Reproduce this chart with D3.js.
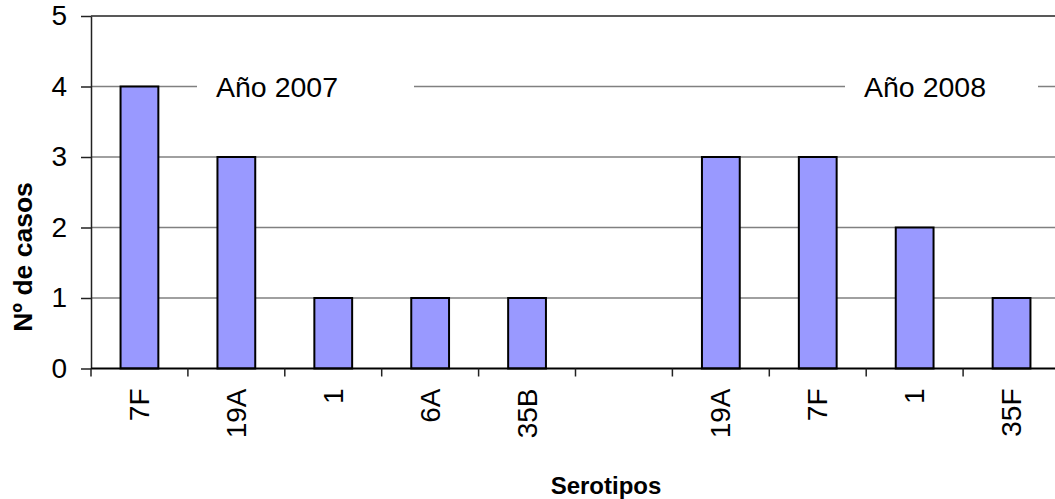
<!DOCTYPE html>
<html lang="es">
<head>
<meta charset="UTF-8">
<title>Serotipos por año</title>
<script src="https://d3js.org/d3.v7.min.js"></script>
<style>
    * { margin: 0; padding: 0; box-sizing: border-box; }
    html, body { width: 1055px; height: 499px; background: #fff; overflow: hidden; }
    svg { display: block; font-family: Arial, "Liberation Sans", sans-serif; }
</style>
</head>
<body>
<svg id="chart" width="1055" height="499"></svg>
<script>
    // Data
    const categories = ["7F", "19A", "1", "6A", "35B", "", "19A", "7F", "1", "35F"];
    const cases = [4, 3, 1, 1, 1, 0, 3, 3, 2, 1];
    const yTicks = [0, 1, 2, 3, 4, 5];
    const yearLabels = ["Año 2007", "Año 2008"];

    const svg = d3.select("#chart");
    const margin = { top: 16, right: -5, bottom: 130.5, left: 91 };
    const width = 1055, height = 499;

    const x = d3.scaleBand()
        .domain(d3.range(categories.length))
        .range([margin.left, width - margin.right])
        .padding(0);

    const y = d3.scaleLinear()
        .domain([0, 5])
        .range([height - margin.bottom, margin.top]);

    // gridlines
    svg.append("g")
        .selectAll("line")
        .data(yTicks.filter(d => d > 0))
        .join("line")
        .attr("x1", margin.left)
        .attr("x2", width - margin.right)
        .attr("y1", d => y(d))
        .attr("y2", d => y(d))
        .attr("stroke", d => d === 5 ? "#222" : "#808080")
        .attr("stroke-width", 1.5);

    // year labels sit on the 4 gridline with a white box behind
    const labelBoxes = [
        { box: [197, 414], textX: 216 },
        { box: [845, 1038], textX: 864 }
    ];
    const yl = svg.append("g");
    yearLabels.forEach((t, i) => {
        const b = labelBoxes[i];
        yl.append("rect")
            .attr("x", b.box[0]).attr("width", b.box[1] - b.box[0])
            .attr("y", y(4) - 20).attr("height", 40)
            .attr("fill", "#fff");
        yl.append("text")
            .attr("x", b.textX)
            .attr("y", y(4) + 10)
            .attr("font-size", 28.5)
            .attr("fill", "#000")
            .text(t);
    });

    // bars
    const barW = x.bandwidth() * 0.39;
    svg.append("g")
        .selectAll("rect")
        .data(cases.map((v, i) => ({ v, i })).filter(d => d.v > 0))
        .join("rect")
        .attr("x", d => x(d.i) + x.bandwidth() / 2 - barW / 2)
        .attr("y", d => y(d.v))
        .attr("width", barW)
        .attr("height", d => y(0) - y(d.v))
        .attr("fill", "#9999ff")
        .attr("stroke", "#000")
        .attr("stroke-width", 2);

    // y axis
    const yAxis = svg.append("g")
        .attr("transform", `translate(${margin.left},0)`)
        .call(d3.axisLeft(y).tickValues(yTicks).tickFormat(d3.format("d"))
            .tickSize(10).tickPadding(14).tickSizeOuter(0));
    yAxis.select(".domain").attr("stroke", "#222").attr("stroke-width", 1.5);
    yAxis.selectAll(".tick line").attr("stroke", "#222").attr("stroke-width", 1.5);
    yAxis.selectAll(".tick text")
        .attr("font-size", 28)
        .attr("font-family", "Arial, 'Liberation Sans', sans-serif")
        .attr("fill", "#000");

    // x axis: ticks at band edges, labels rotated
    const xg = svg.append("g")
        .attr("transform", `translate(0,${y(0)})`);
    xg.append("line")
        .attr("x1", margin.left).attr("x2", width - margin.right)
        .attr("stroke", "#000").attr("stroke-width", 2);
    xg.selectAll("line.tk")
        .data(d3.range(categories.length + 1))
        .join("line")
        .attr("class", "tk")
        .attr("x1", i => margin.left + i * x.step())
        .attr("x2", i => margin.left + i * x.step())
        .attr("y1", 0).attr("y2", 8)
        .attr("stroke", "#222").attr("stroke-width", 1.5);
    xg.selectAll("text")
        .data(categories)
        .join("text")
        .attr("transform", (d, i) => `translate(${x(i) + x.bandwidth() / 2 + 9.5},20) rotate(-90)`)
        .attr("text-anchor", "end")
        .attr("font-size", 28)
        .attr("fill", "#000")
        .text(d => d);

    // axis titles
    svg.append("text")
        .attr("transform", "translate(32,257) rotate(-90)")
        .attr("text-anchor", "middle")
        .attr("font-size", 26.5)
        .attr("font-weight", "bold")
        .text("Nº de casos");

    svg.append("text")
        .attr("x", 606)
        .attr("y", 494)
        .attr("text-anchor", "middle")
        .attr("font-size", 24)
        .attr("font-weight", "bold")
        .text("Serotipos");
</script>
</body>
</html>
